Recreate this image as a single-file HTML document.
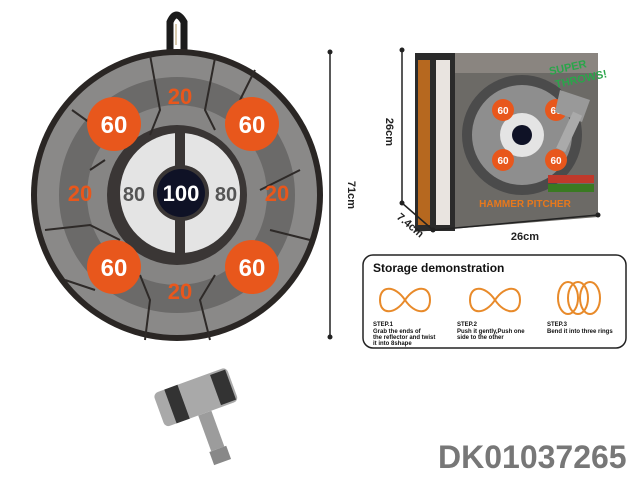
<!DOCTYPE html>
<html><head><meta charset="utf-8"><style>
body{margin:0;background:#fff;}
svg{display:block;font-family:"Liberation Sans",sans-serif;}
</style></head><body>
<svg width="640" height="480" viewBox="0 0 640 480" xmlns="http://www.w3.org/2000/svg">
<!-- hanging loop -->
<path d="M170 50 L170 22 Q176 8 184 22 L184 50" fill="none" stroke="#1b1b1b" stroke-width="7"/>
<path d="M176 45 L176 24" stroke="#d8cbb0" stroke-width="2"/>
<!-- board -->
<circle cx="177" cy="195" r="146" fill="#2a2624"/>
<circle cx="177" cy="195" r="140" fill="#8a8988"/>
<circle cx="177" cy="195" r="118" fill="#6b6a69"/>
<circle cx="177" cy="195" r="90" fill="#868584"/>
<circle cx="177" cy="195" r="70" fill="#3a3635"/>
<!-- cracks -->
<g stroke="#2e2a28" stroke-width="2" fill="none">
<path d="M150 55 L160 110 L150 135"/><path d="M215 58 L205 110 L215 130"/>
<path d="M255 70 L240 100"/><path d="M72 110 L100 130"/><path d="M45 230 L90 225 L120 240"/>
<path d="M300 170 L260 190"/><path d="M310 240 L270 230"/><path d="M145 340 L150 300 L140 275"/>
<path d="M210 340 L200 300 L215 275"/><path d="M65 280 L95 290"/><path d="M90 170 L105 160"/>
</g>
<!-- white ring -->
<circle cx="180" cy="193" r="60" fill="#e4e4e4"/>
<rect x="175" y="133" width="10" height="35" fill="#3a3635"/>
<rect x="175" y="218" width="10" height="35" fill="#3a3635"/>
<circle cx="181" cy="193" r="28" fill="#3a3635"/>
<circle cx="181" cy="193" r="24" fill="#0f1226"/>
<text x="181" y="201" font-size="22" font-weight="bold" fill="#fff" text-anchor="middle">100</text>
<text x="134" y="201" font-size="20" font-weight="bold" fill="#555" text-anchor="middle">80</text>
<text x="226" y="201" font-size="20" font-weight="bold" fill="#555" text-anchor="middle">80</text>
<!-- 20s -->
<g font-size="22" font-weight="bold" fill="#e8571c" text-anchor="middle">
<text x="180" y="104">20</text><text x="80" y="201">20</text><text x="277" y="201">20</text><text x="180" y="299">20</text>
</g>
<!-- 60s -->
<g fill="#e8571c"><circle cx="114" cy="124" r="27"/><circle cx="252" cy="124" r="27"/><circle cx="114" cy="267" r="27"/><circle cx="252" cy="267" r="27"/></g>
<g font-size="24" font-weight="bold" fill="#fff" text-anchor="middle">
<text x="114" y="133">60</text><text x="252" y="133">60</text><text x="114" y="276">60</text><text x="252" y="276">60</text>
</g>
<!-- dimension board -->
<line x1="330" y1="52" x2="330" y2="337" stroke="#222" stroke-width="1.5"/>
<circle cx="330" cy="52" r="2.5" fill="#222"/><circle cx="330" cy="337" r="2.5" fill="#222"/>
<text x="348" y="195" font-size="11" font-weight="bold" fill="#222" transform="rotate(90 348 195)" text-anchor="middle">71cm</text>
<!-- box -->
<polygon points="415,53 598,53 598,217 415,232" fill="#6c6a66"/>
<rect x="415" y="53" width="40" height="178" fill="#2b2b2b"/>
<rect x="418" y="60" width="12" height="165" fill="#d9781d" opacity="0.8"/>
<rect x="436" y="60" width="14" height="165" fill="#e9e4e0"/>
<rect x="455" y="53" width="143" height="20" fill="#8a8580"/>
<circle cx="522" cy="135" r="60" fill="#4b4b4b"/>
<circle cx="522" cy="135" r="50" fill="#8e8e8e"/>
<circle cx="522" cy="135" r="22" fill="#e4e4e4"/>
<circle cx="522" cy="135" r="10" fill="#0f1226"/>
<g fill="#e8571c"><circle cx="503" cy="110" r="11"/><circle cx="556" cy="110" r="11"/><circle cx="503" cy="160" r="11"/><circle cx="556" cy="160" r="11"/></g>
<g font-size="10" font-weight="bold" fill="#fff" text-anchor="middle"><text x="503" y="114">60</text><text x="556" y="114">60</text><text x="503" y="164">60</text><text x="556" y="164">60</text></g>
<polygon points="560,90 590,100 582,122 555,112" fill="#999"/>
<rect x="565" y="112" width="10" height="40" fill="#aaa" transform="rotate(25 570 130)"/>
<text x="550" y="75" font-size="11" font-weight="bold" fill="#2aa54a" transform="rotate(-12 550 75)">SUPER</text>
<text x="556" y="88" font-size="11" font-weight="bold" fill="#2aa54a" transform="rotate(-12 556 88)">THROWS!</text>
<rect x="548" y="175" width="46" height="8" fill="#c0392b"/><rect x="548" y="184" width="46" height="8" fill="#3a7a22"/>
<text x="525" y="207" font-size="10" font-weight="bold" fill="#e8781c" text-anchor="middle">HAMMER PITCHER</text>
<!-- box dimensions -->
<g stroke="#222" stroke-width="1.5"><line x1="402" y1="50" x2="402" y2="203"/><line x1="402" y1="203" x2="433" y2="230"/><line x1="433" y1="230" x2="598" y2="215"/></g>
<g fill="#222"><circle cx="402" cy="50" r="2.5"/><circle cx="402" cy="203" r="2.5"/><circle cx="433" cy="230" r="2.5"/><circle cx="598" cy="215" r="2.5"/></g>
<text x="386" y="132" font-size="11" font-weight="bold" fill="#222" text-anchor="middle" transform="rotate(90 386 132)">26cm</text>
<text x="408" y="228" font-size="11" font-weight="bold" fill="#222" text-anchor="middle" transform="rotate(40 408 228)">7.4cm</text>
<text x="525" y="240" font-size="11" font-weight="bold" fill="#222" text-anchor="middle">26cm</text>
<!-- storage -->
<rect x="363" y="255" width="263" height="93" rx="10" fill="#fff" stroke="#222" stroke-width="1.5"/>
<text x="373" y="272" font-size="12" font-weight="bold" fill="#111">Storage demonstration</text>
<g fill="none" stroke="#e88a2a" stroke-width="2">
<path d="M380 300 C380 285 395 285 405 300 C415 315 430 315 430 300 C430 285 415 285 405 300 C395 315 380 315 380 300Z"/>
<path d="M470 300 C470 285 485 285 495 300 C505 315 520 315 520 300 C520 285 505 285 495 300 C485 315 470 315 470 300Z"/>
<ellipse cx="568" cy="298" rx="10" ry="16"/><ellipse cx="578" cy="298" rx="10" ry="16"/><ellipse cx="590" cy="298" rx="10" ry="16"/>
</g>
<g font-size="6" font-weight="bold" fill="#111">
<text x="373" y="326">STEP.1</text><text x="373" y="333">Grab the ends of</text><text x="373" y="339">the reflector and twist</text><text x="373" y="345">it into 8shape</text>
<text x="457" y="326">STEP.2</text><text x="457" y="333">Push it gently,Push one</text><text x="457" y="339">side to the other</text>
<text x="547" y="326">STEP.3</text><text x="547" y="333">Bend it into three rings</text>
</g>
<!-- hammer -->
<g transform="rotate(-20 200 400)">
<rect x="158" y="378" width="78" height="36" rx="5" fill="#a9a9a9"/>
<rect x="170" y="378" width="14" height="36" fill="#333"/>
<rect x="218" y="380" width="16" height="32" fill="#333"/>
<rect x="193" y="414" width="14" height="38" fill="#9c9c9c"/>
<rect x="191" y="452" width="18" height="14" fill="#888"/>
</g>
<text x="438" y="468" font-size="32" font-weight="bold" fill="#777">DK01037265</text>
</svg>
</body></html>
